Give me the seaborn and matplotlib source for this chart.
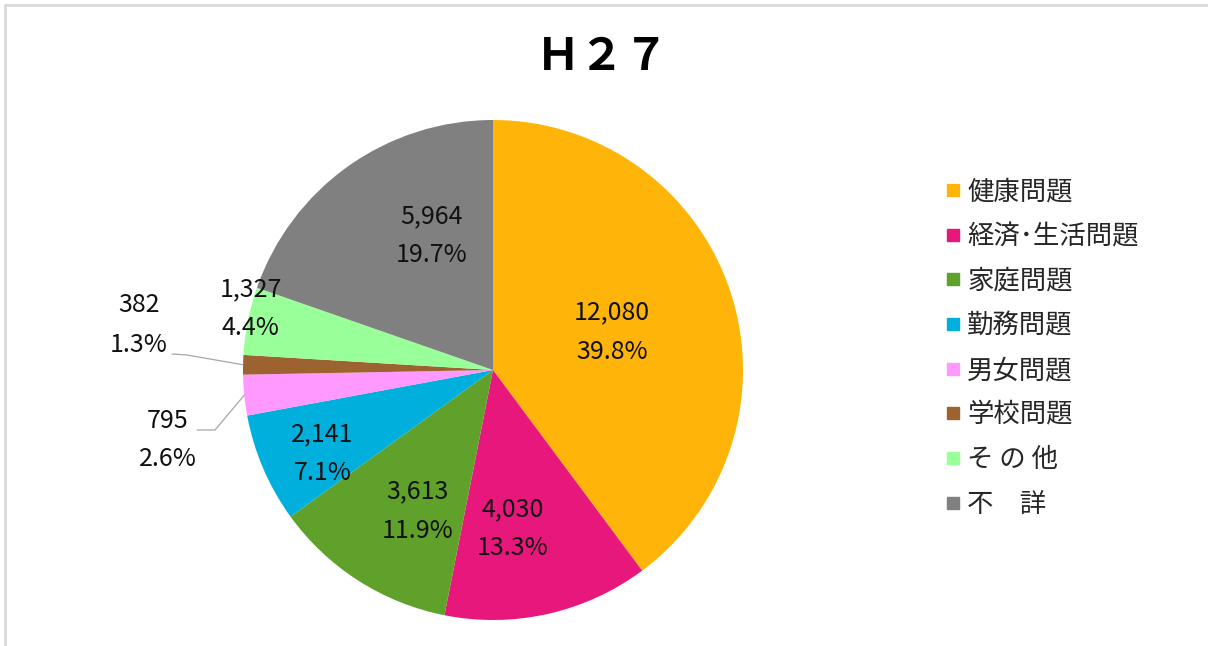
import matplotlib.pyplot as plt
import numpy as np
import seaborn as sns
from matplotlib.lines import Line2D

categories = ['健康問題', '経済･生活問題', '家庭問題', '勤務問題', '男女問題', '学校問題', 'そ の 他', '不\u3000詳']
counts = [12080, 4030, 3613, 2141, 795, 382, 1327, 5964]
colors = ['#FFB40A', '#E8177B', '#5FA12A', '#00AFDB', '#FF99FF', '#9C6230', '#99FF99', '#808080']
title = 'Ｈ２７'

# label placement per slice: (radius, angle offset in deg); None -> outside with leader
label_place = [(0.50, -0.7), (0.64, -5.6), (0.64, 4.6), (0.76, 3.0), None, None, (1.0, -2.8), (0.59, -10.9)]

sns.set_theme(style='white')
plt.rcParams['font.family'] = ['Noto Sans CJK JP', 'DejaVu Sans']

W, H = 1208, 646
fig = plt.figure(figsize=(W / 100, H / 100), dpi=100)
fig.patch.set_facecolor('white')
ax = fig.add_axes([0, 0, 1, 1])

R = 250.0
cx, cy = 493, 370
wedges, _ = ax.pie(counts, colors=colors, startangle=90, counterclock=False,
                   radius=1, center=(0, 0), wedgeprops=dict(linewidth=0))
ax.set_xlim(-cx / R, (W - cx) / R)
ax.set_ylim(-(H - cy) / R, cy / R)
ax.set_aspect('equal')
ax.axis('off')

total = sum(counts)
cum = 0
for i, v in enumerate(counts):
    mid = 90 - 360 * (cum + v / 2) / total
    cum += v
    txt = f'{v:,}\n{100 * v / total:.1f}%'
    if label_place[i] is not None:
        r, off = label_place[i]
        a = np.deg2rad(mid + off)
        ax.text(r * np.cos(a), r * np.sin(a), txt, ha='center', va='center',
                fontsize=18, linespacing=1.65, color='#111111')
    else:
        a = np.deg2rad(mid)
        ex, ey = np.cos(a), np.sin(a)
        if v == 795:
            elbow = ((215 - cx) / R, (cy - 430) / R)
            end = ((197 - cx) / R, (cy - 430) / R)
            tpos = ((168 - cx) / R, (cy - 440) / R)
        else:
            elbow = ((187 - cx) / R, (cy - 355) / R)
            end = ((172 - cx) / R, (cy - 354) / R)
            tpos = ((139 - cx) / R, (cy - 325) / R)
        ax.plot([ex, elbow[0], end[0]], [ey, elbow[1], end[1]], color='#A6A6A6', lw=0.9)
        ax.text(tpos[0], tpos[1], txt, ha='center', va='center',
                fontsize=18, linespacing=1.65, color='#111111')

fig.text(603 / W, 1 - 57 / H, title, ha='center', va='center',
         fontsize=32, fontweight='bold', color='black')

handles = [Line2D([], [], marker='s', linestyle='none', markersize=8,
                  markerfacecolor=c, markeredgecolor=c) for c in colors]
fig.legend(handles, categories, loc='upper left', bbox_to_anchor=(933 / W, 1 - 165 / H),
           frameon=False, fontsize=19, handlelength=0.5, handletextpad=0.3,
           labelspacing=0.67, borderpad=0)

# light frame (top and left edges)
fig.add_artist(Line2D([5 / W, 1], [1 - 5 / H, 1 - 5 / H], color='#D9D9D9', lw=2))
fig.add_artist(Line2D([5 / W, 5 / W], [0, 1 - 5 / H], color='#D9D9D9', lw=2))

fig.savefig('out.png', dpi=100, facecolor='white')
